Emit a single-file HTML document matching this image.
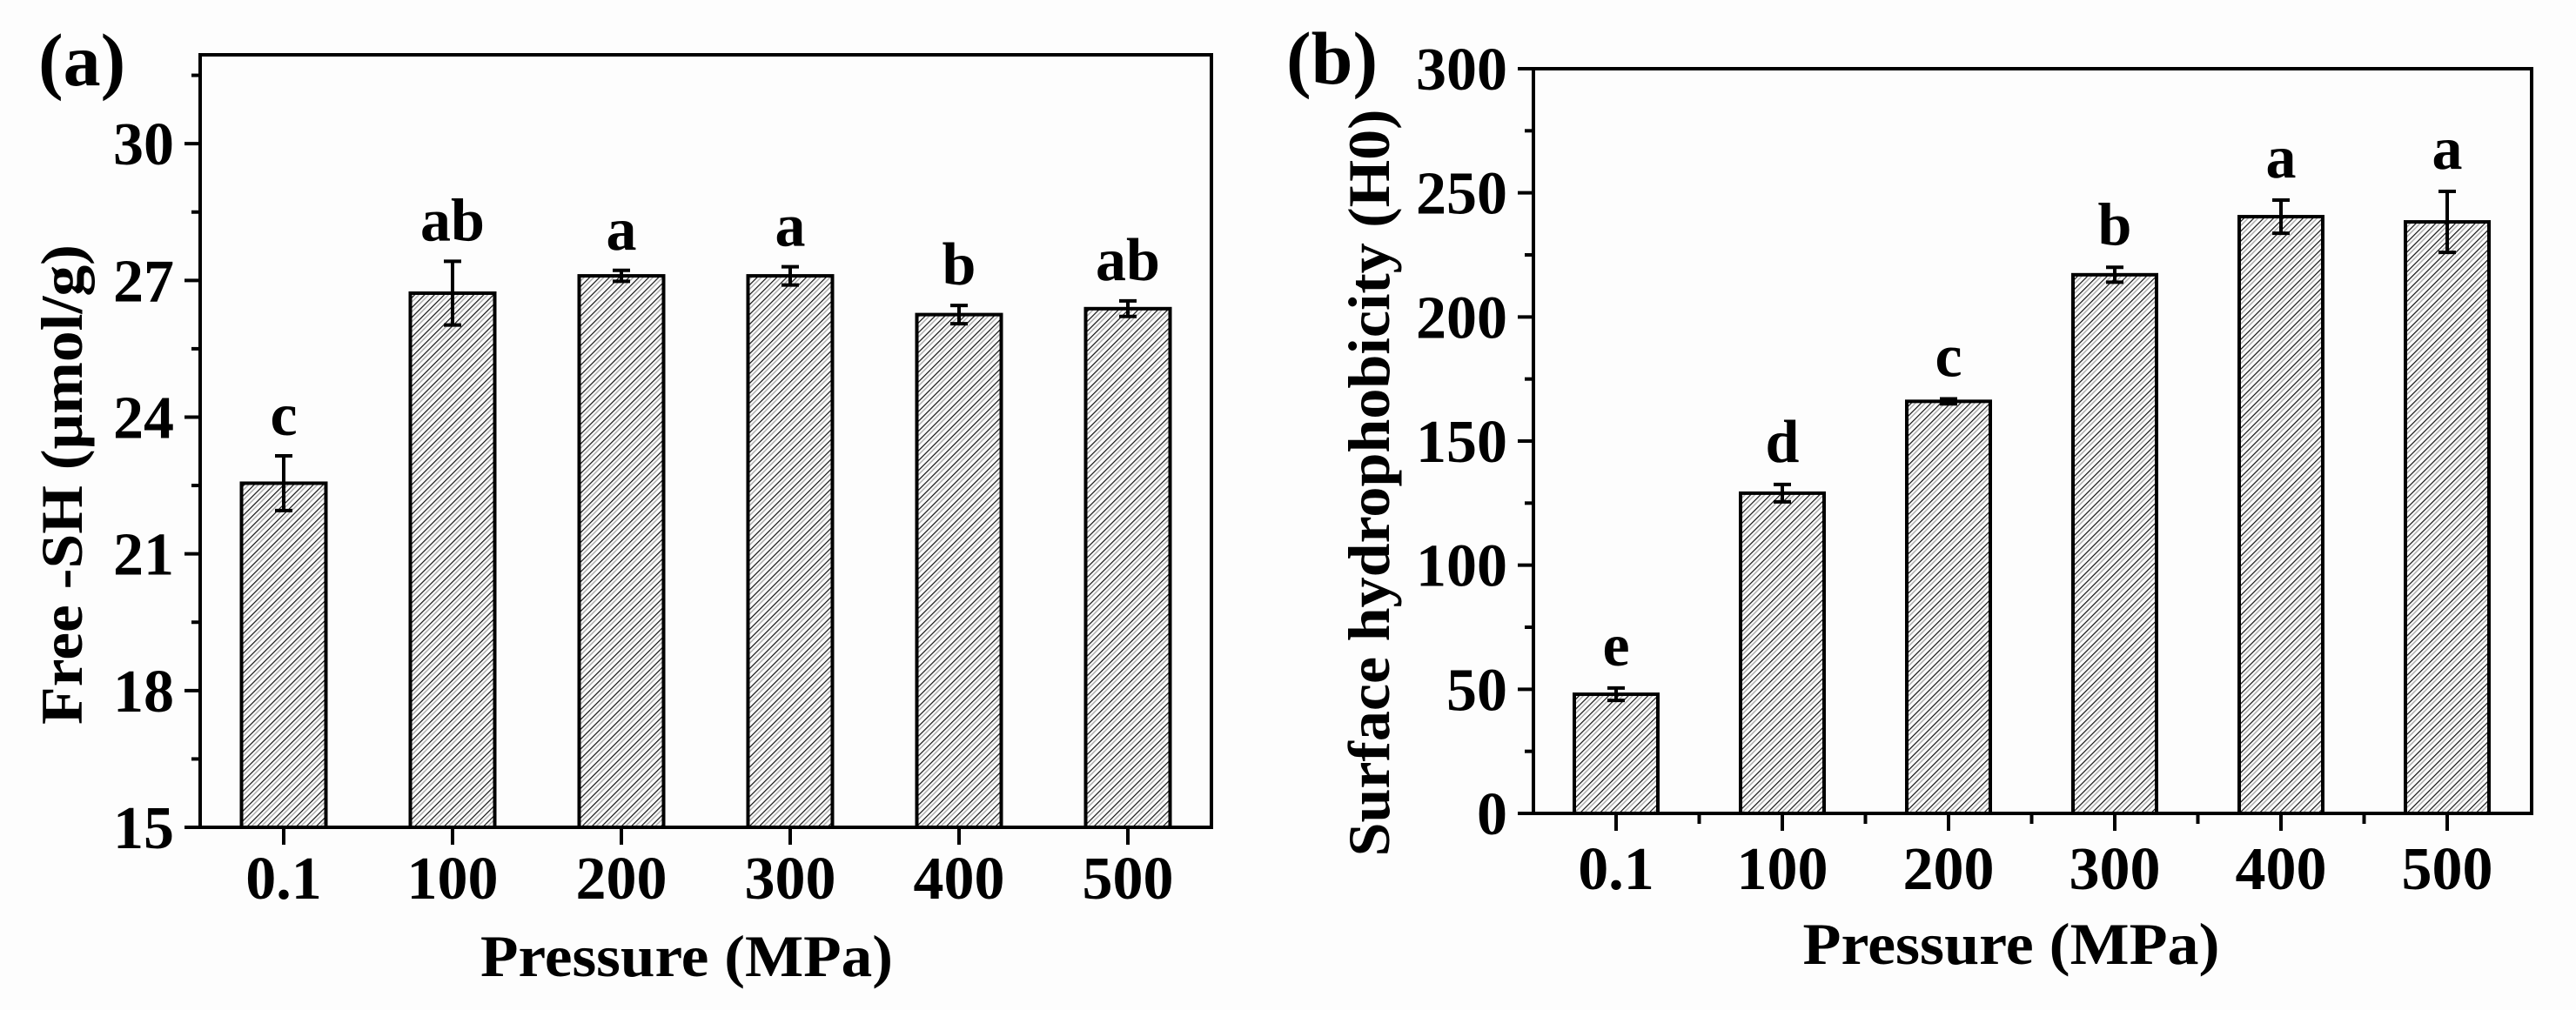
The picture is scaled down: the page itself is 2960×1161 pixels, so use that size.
<!DOCTYPE html>
<html><head><meta charset="utf-8">
<style>
html,body{margin:0;padding:0;background:#fdfdfd;}
svg{display:block;font-family:"Liberation Serif",serif;font-weight:bold;}
</style></head>
<body>
<svg id="fig" width="2960" height="1161" viewBox="0 0 2960 1161" xmlns="http://www.w3.org/2000/svg">
<defs>
<pattern id="hatch" patternUnits="userSpaceOnUse" width="8" height="8" patternTransform="rotate(45)">
<rect width="8" height="8" fill="#fdfdfd"/>
<line x1="0" y1="0" x2="0" y2="8" stroke="#111" stroke-width="2.4"/>
<line x1="4" y1="0" x2="4" y2="8" stroke="#aaa" stroke-width="1.4"/>
</pattern>
</defs>
<g id="panelA"></g>
<g id="panelB"></g>
</svg>
<script>
const categories = ["0.1","100","200","300","400","500"];
const freeSH = [22.55, 26.72, 27.1, 27.1, 26.25, 26.38];
const freeSHErr = [0.6, 0.7, 0.12, 0.2, 0.2, 0.17];
const freeSHLetters = ["c","ab","a","a","b","ab"];
const ticksA = [15, 18, 21, 24, 27, 30];
const hydro = [48, 129, 166, 217, 240.4, 238.3];
const hydroErr = [2.5, 3.5, 1, 3, 6.7, 12.3];
const hydroLetters = ["e","d","c","b","a","a"];
const ticksB = [0, 50, 100, 150, 200, 250, 300];

const NS = "http://www.w3.org/2000/svg";
function mk(parent, tag, attrs, text){
  const e = document.createElementNS(NS, tag);
  for (const k in attrs) e.setAttribute(k, attrs[k]);
  if (text !== undefined) e.textContent = text;
  parent.appendChild(e);
  return e;
}

function drawPanel(g, cfg){
  const {left,right,top,bottom,vmin,vmax,firstX,stepX,barW,vals,errs,letters,ticks,minorStep,xMinor,label,ytitle,ytitleX,ytitleY,ytitleLen,xtitleX,xtitleY,xtitleLen,tickLabelBase,letterGap,panelLabelX,panelLabelY} = cfg;
  const y = v => bottom - (v - vmin) * (bottom - top) / (vmax - vmin);
  const x = i => firstX + i * stepX;
  // bars
  vals.forEach((v,i)=>{
    const r = mk(g,'rect',{x:x(i)-barW/2,y:y(v),width:barW,height:bottom-y(v),fill:'url(#hatch)',stroke:'#000','stroke-width':4});
    
    
    const eg = mk(g,'g',{stroke:'#000','stroke-width':4});
    
    
    const yt = y(v+errs[i]), yb = y(v-errs[i]);
    mk(eg,'line',{x1:x(i),x2:x(i),y1:yt,y2:yb});
    mk(eg,'line',{x1:x(i)-10,x2:x(i)+10,y1:yt,y2:yt});
    mk(eg,'line',{x1:x(i)-10,x2:x(i)+10,y1:yb,y2:yb});
    const t = mk(g,'text',{x:x(i),y:yt-letterGap,'text-anchor':'middle','font-size':70}, letters[i]);
    
    
  });
  // frame
  const f = mk(g,'rect',{x:left,y:top,width:right-left,height:bottom-top,fill:'none',stroke:'#000','stroke-width':4});
  
  
  // y axis ticks
  const ya = mk(g,'g',{});
  
  
  mk(ya,'line',{x1:left-18,x2:left,y1:bottom,y2:bottom,stroke:'#000','stroke-width':4});
  for (let v = vmin; v <= vmax + 1e-6; v += minorStep){
    const major = ticks.some(t=>Math.abs(t-v)<1e-6);
    mk(ya,'line',{x1:left-(major?18:10),x2:left,y1:y(v),y2:y(v),stroke:'#000','stroke-width':4});
  }
  ticks.forEach(v=>{
    const t = mk(ya,'text',{x:left-30,y:y(v)+24,'text-anchor':'end','font-size':70}, String(v));
    
    
  });
  // x axis ticks
  const xa = mk(g,'g',{});
  
  
  categories.forEach((c,i)=>{
    mk(xa,'line',{x1:x(i),x2:x(i),y1:bottom,y2:bottom+20,stroke:'#000','stroke-width':4});
    if (xMinor && i < categories.length-1) mk(xa,'line',{x1:x(i)+stepX/2,x2:x(i)+stepX/2,y1:bottom,y2:bottom+12,stroke:'#000','stroke-width':4});
    const t = mk(xa,'text',{x:x(i),y:tickLabelBase,'text-anchor':'middle','font-size':70}, c);
    
    
  });
  const xt = mk(g,'text',{x:xtitleX,y:xtitleY,'text-anchor':'middle','font-size':68,textLength:xtitleLen,lengthAdjust:'spacingAndGlyphs'},'Pressure (MPa)');
  
  
  const yt = mk(g,'text',{x:0,y:0,'text-anchor':'middle','font-size':68,textLength:ytitleLen,lengthAdjust:'spacingAndGlyphs',transform:`translate(${ytitleX},${ytitleY}) rotate(-90)`}, ytitle);
  
  
  const pl = mk(g,'text',{x:panelLabelX,y:panelLabelY,'font-size':86}, label);
  
  
}

drawPanel(document.getElementById('panelA'),{
  left:230,right:1392,top:63,bottom:951,vmin:15,vmax:31.95,firstX:326,stepX:194,barW:97,
  vals:freeSH,errs:freeSHErr,letters:freeSHLetters,ticks:ticksA,minorStep:1.5,xMinor:false,
  label:'(a)',ytitle:'Free -SH (μmol/g)',ytitleX:94,ytitleY:557,ytitleLen:552,
  xtitleX:789,xtitleY:1122,xtitleLen:474,tickLabelBase:1033,letterGap:24,panelLabelX:44,panelLabelY:98
});
drawPanel(document.getElementById('panelB'),{
  left:1762,right:2909,top:79,bottom:935,vmin:0,vmax:300,firstX:1857,stepX:191,barW:96,
  vals:hydro,errs:hydroErr,letters:hydroLetters,ticks:ticksB,minorStep:25,xMinor:true,
  label:'(b)',ytitle:'Surface hydrophobicity (H0)',ytitleX:1596,ytitleY:555,ytitleLen:859,
  xtitleX:2311,xtitleY:1108,xtitleLen:479,tickLabelBase:1022,letterGap:26,panelLabelX:1478,panelLabelY:96
});
</script>
</body></html>
